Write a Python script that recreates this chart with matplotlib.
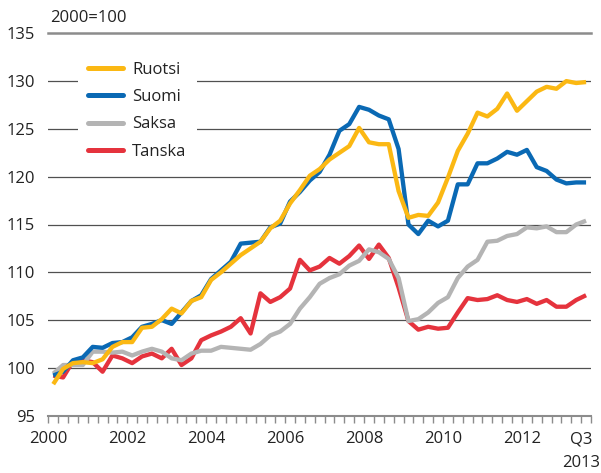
import matplotlib
matplotlib.use("Agg")
import matplotlib.pyplot as plt
import numpy as np

plt.rcParams['font.family'] = ['Open Sans', 'DejaVu Sans']

# Quarterly index values 2000Q1 .. 2013Q3 (2000=100)
ruotsi = [98.3, 99.9, 100.5, 100.6, 100.5, 100.9, 102.2, 102.7, 102.7, 104.2,
          104.3, 105.1, 106.2, 105.7, 107.0, 107.4, 109.2, 110.0, 110.9, 111.8,
          112.5, 113.2, 114.6, 115.4, 117.2, 118.6, 120.1, 120.8, 121.8, 122.5,
          123.2, 125.1, 123.6, 123.4, 123.4, 118.5, 115.7, 116.0, 115.9, 117.3,
          119.9, 122.7, 124.5, 126.7, 126.3, 127.1, 128.7, 126.9, 127.9, 128.9,
          129.4, 129.2, 130.0, 129.8, 129.9]
suomi = [99.2, 99.6, 100.8, 101.1, 102.2, 102.1, 102.6, 102.7, 103.2, 104.3,
         104.6, 105.0, 104.6, 105.8, 107.0, 107.6, 109.3, 110.2, 111.1, 113.0,
         113.1, 113.2, 114.7, 115.1, 117.4, 118.4, 119.6, 120.5, 122.3, 124.8,
         125.5, 127.3, 127.0, 126.4, 126.0, 122.9, 115.0, 114.0, 115.4, 114.8,
         115.4, 119.2, 119.2, 121.4, 121.4, 121.9, 122.6, 122.3, 122.8, 121.0,
         120.6, 119.7, 119.3, 119.4, 119.4]
saksa = [99.4, 100.3, 100.3, 100.3, 101.7, 101.7, 101.6, 101.7, 101.3, 101.7,
         102.0, 101.7, 101.0, 100.8, 101.5, 101.8, 101.8, 102.2, 102.1, 102.0,
         101.9, 102.5, 103.4, 103.8, 104.6, 106.2, 107.4, 108.8, 109.4, 109.8,
         110.7, 111.2, 112.4, 112.1, 111.4, 109.4, 104.9, 105.1, 105.8, 106.8,
         107.4, 109.4, 110.6, 111.3, 113.2, 113.3, 113.8, 114.0, 114.7, 114.6,
         114.8, 114.2, 114.2, 115.0, 115.4]
tanska = [99.2, 99.0, 100.7, 100.8, 100.6, 99.6, 101.3, 101.0, 100.5, 101.2,
          101.5, 101.0, 102.0, 100.3, 101.0, 102.9, 103.4, 103.8, 104.3, 105.2,
          103.6, 107.8, 106.9, 107.4, 108.3, 111.3, 110.2, 110.6, 111.5, 110.9,
          111.7, 112.8, 111.4, 112.9, 111.5, 108.4, 104.9, 104.0, 104.3, 104.1,
          104.2, 105.8, 107.3, 107.1, 107.2, 107.6, 107.1, 106.9, 107.2, 106.7,
          107.1, 106.4, 106.4, 107.1, 107.6]

series_names = ['Ruotsi', 'Suomi', 'Saksa', 'Tanska']
series_colors = ['#FBB813', '#0A69B4', '#B4B4B4', '#E5333D']
year_labels = ['2000', '2002', '2004', '2006', '2008', '2010', '2012']
year_label_pos = [0, 8, 16, 24, 32, 40, 48]
last_label = 'Q3'
last_year = '2013'
yticks = [95, 100, 105, 110, 115, 120, 125, 130, 135]

W, H = 601, 473
fig = plt.figure(figsize=(W / 100, H / 100), dpi=100)
L, R, T, B = 48.3, 591.0, 33.3, 415.7
ax = fig.add_axes([L / W, 1 - B / H, (R - L) / W, (B - T) / H])

n = len(ruotsi)
x = np.arange(n) + 0.5

data = [ruotsi, suomi, saksa, tanska]
zorders = [6, 5, 4, 3]
lines = []
for name, vals, col, z in zip(series_names, data, series_colors, zorders):
    ln, = ax.plot(x, vals, color=col, lw=3.1, solid_joinstyle='round',
                  solid_capstyle='butt', zorder=z, label=name)
    lines.append(ln)

ax.set_xlim(0, 55)
ax.set_ylim(95, 135)

# gridlines
for v in yticks[1:-1]:
    ax.axhline(v, color='#505050', lw=0.9, zorder=1)
ax.axhline(135, color='#8C8C8C', lw=1.8, zorder=1, clip_on=False)

for s in ['left', 'right', 'top']:
    ax.spines[s].set_visible(False)
ax.spines['bottom'].set_color('#8C8C8C')
ax.spines['bottom'].set_linewidth(1.5)

ax.set_xticks(np.arange(0, 56, 1))
ax.set_xticklabels([])
ax.tick_params(axis='x', direction='out', length=4.8, width=1.0, color='#8C8C8C')

ax.set_yticks(yticks)
ax.set_yticklabels([str(v) for v in yticks])
ax.tick_params(axis='y', length=0, pad=9.6, labelsize=12, labelcolor='#222222')

xt = ax.get_xaxis_transform()
for lab, pos in zip(year_labels, year_label_pos):
    ax.text(pos, -0.061, lab, transform=xt, ha='center', va='center',
            fontsize=12, color='#222222')
ax.text(54, -0.061, last_label, transform=xt, ha='center', va='center',
        fontsize=12, color='#222222')
ax.text(54, -0.124, last_year, transform=xt, ha='center', va='center',
        fontsize=12, color='#222222')

fig.text(50 / W, 1 - 18 / H, '2000=100', ha='left', va='center',
         fontsize=12, color='#222222')

leg = ax.legend(handles=lines, loc='upper left',
                bbox_to_anchor=((78 - L) / (R - L), 1 - (52 - T) / (B - T)),
                borderaxespad=0, frameon=True, fancybox=False,
                facecolor='white', edgecolor='none', framealpha=1,
                fontsize=12, handlelength=2.1, handletextpad=0.55,
                labelspacing=0.67, borderpad=0.6)
for h in leg.get_lines():
    h.set_linewidth(3.6)
    h.set_solid_capstyle('round')
leg.set_zorder(10)
for t in leg.get_texts():
    t.set_color('#222222')

fig.savefig('out.png', dpi=100)
